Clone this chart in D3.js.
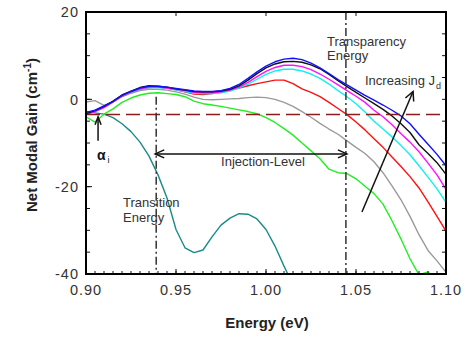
<!DOCTYPE html>
<html>
<head>
<meta charset="utf-8">
<script src="https://cdn.jsdelivr.net/npm/d3@7"></script>
<style>
  html, body { margin: 0; padding: 0; background: #fff; }
  svg { display: block; font-family: "Liberation Sans", Arial, sans-serif; }
</style>
</head>
<body>
<svg id="chart" width="466" height="337"></svg>
<script>
// Photon energy grid (eV), shared by all gain spectra
const energy = d3.range(41).map(i => +(0.9 + i * 0.005).toFixed(3));

// Net modal gain spectra (cm^-1), increasing drive current Jd
const gainTeal = [-2.8, -3.1, -3.4, -4.2, -5.6, -7.4, -9.8, -13.0, -17.3, -22.6, -29.8, -34.0, -35.1, -34.5, -31.5, -28.8, -27.2, -26.2, -26.3, -27.4, -29.8, -33.6, -38.2, -42.5];
const gainGreen = [-4.0, -5.2, -3.4, -2.2, -0.7, 0.3, 1.0, 1.4, 1.5, 1.3, 1.1, 0.6, -0.4, -1.0, -1.3, -1.6, -2.0, -2.4, -2.8, -3.3, -4.2, -5.3, -6.7, -8.2, -10.0, -11.8, -13.6, -16.0, -16.8, -17.0, -18.2, -19.9, -21.6, -24.0, -27.8, -32.0, -36.5, -40.2, -39.5, -42.0, -44.0];
const gainGray = [-0.6, -0.3, -1.4, -0.6, 0.6, 1.4, 2.0, 2.3, 2.3, 2.1, 1.7, 1.2, 0.5, 0.0, -0.1, 0.0, 0.1, 0.2, 0.4, 0.5, 0.4, 0.0, -0.7, -1.6, -2.8, -4.1, -5.5, -6.8, -8.0, -9.5, -11.0, -12.4, -14.3, -16.8, -19.8, -23.0, -26.8, -31.0, -34.6, -37.0, -39.6];
const gainRed = [-3.0, -2.7, -1.8, -0.6, 0.7, 1.6, 2.3, 2.7, 2.8, 2.6, 2.2, 1.7, 1.2, 1.1, 1.3, 1.6, 2.1, 2.6, 3.1, 3.6, 4.0, 4.4, 4.4, 3.6, 2.4, 1.6, 0.6, -0.7, -2.1, -3.5, -5.2, -7.0, -9.0, -11.0, -13.2, -15.4, -17.7, -20.3, -23.5, -26.8, -30.2];
const gainCyan = [-3.2, -2.8, -1.8, -0.6, 0.8, 1.6, 2.3, 2.7, 2.7, 2.5, 2.2, 1.8, 1.4, 1.3, 1.3, 1.5, 1.9, 2.6, 3.5, 4.6, 5.7, 6.5, 6.9, 6.9, 6.5, 5.8, 4.8, 3.5, 2.0, 0.6, -1.0, -2.9, -5.0, -6.8, -8.6, -10.6, -12.7, -15.2, -17.8, -20.5, -23.6];
const gainMagenta = [-3.5, -2.8, -1.9, -0.6, 0.8, 1.7, 2.4, 2.8, 2.8, 2.6, 2.3, 2.0, 1.6, 1.5, 1.5, 1.7, 2.1, 2.8, 3.9, 5.2, 6.4, 7.3, 7.8, 7.8, 7.5, 6.8, 5.8, 4.6, 3.3, 2.0, 0.7, -0.7, -2.5, -4.0, -5.8, -7.9, -9.8, -12.0, -14.6, -17.3, -20.6];
const gainBlack = [-3.3, -2.6, -1.6, -0.4, 1.0, 1.9, 2.7, 3.1, 3.0, 2.8, 2.4, 2.1, 1.8, 1.7, 1.7, 1.9, 2.3, 3.1, 4.4, 5.9, 7.2, 8.1, 8.6, 8.7, 8.5, 7.9, 7.0, 5.7, 4.3, 2.9, 1.6, 0.3, -1.0, -2.3, -3.8, -5.6, -7.6, -10.4, -12.4, -14.5, -17.2];
const gainBlue = [-3.0, -2.5, -1.5, -0.5, 0.9, 1.8, 2.6, 3.0, 3.0, 2.8, 2.5, 2.2, 1.9, 1.8, 1.8, 2.0, 2.5, 3.4, 4.8, 6.3, 7.6, 8.6, 9.2, 9.4, 9.1, 8.3, 7.2, 5.9, 4.5, 3.3, 2.1, 0.9, -0.2, -1.3, -2.5, -3.8, -5.6, -8.0, -10.3, -12.6, -15.2];

const seriesValues = [gainTeal, gainGreen, gainGray, gainRed, gainCyan, gainMagenta, gainBlack, gainBlue];
const seriesColors = ["#1b8a8a", "#22ee22", "#9a9a9a", "#ff1010", "#10f0f0", "#ff10ff", "#111111", "#1010ff"];

// Reference levels
const internalLoss = -3.5;          // alpha_i, cm^-1
const transitionEnergy = 0.939;     // eV
const transparencyEnergy = 1.0444;  // eV

// Axis ticks
const xMajorTicks = [0.90, 0.95, 1.00, 1.05, 1.10];
const yMajorTicks = [-40, -20, 0, 20];

const svg = d3.select("#chart");
const W = 466, H = 337;
const margin = { left: 86, right: 20, top: 12, bottom: 63 };
const x = d3.scaleLinear().domain([0.9, 1.1]).range([margin.left, W - margin.right]);
const y = d3.scaleLinear().domain([-40, 20]).range([H - margin.bottom, margin.top]);
const x0 = x.range()[0], x1 = x.range()[1], y0 = y.range()[0], y1 = y.range()[1];

svg.append("defs").append("clipPath").attr("id", "plot")
  .append("rect").attr("x", x0).attr("y", y1).attr("width", x1 - x0).attr("height", y0 - y1);

// Spectra
const line = d3.line().x(d => x(d[0])).y(d => y(d[1]));
const curves = svg.append("g").attr("clip-path", "url(#plot)");
seriesValues.forEach((vals, i) => {
  const pts = vals.map((v, j) => [energy[j], v]);
  curves.append("path").attr("d", line(pts))
    .attr("fill", "none").attr("stroke", seriesColors[i])
    .attr("stroke-width", 1.4).attr("stroke-linejoin", "round");
});

// Internal loss level
curves.append("line")
  .attr("x1", x0).attr("x2", x1).attr("y1", y(internalLoss)).attr("y2", y(internalLoss))
  .attr("stroke", "#8b1c1c").attr("stroke-width", 1.5).attr("stroke-dasharray", "14,6");

// Transition / transparency markers
const dashDot = "8,3,2,3";
curves.append("line")
  .attr("x1", x(transitionEnergy)).attr("x2", x(transitionEnergy))
  .attr("y1", y(0.6)).attr("y2", y0)
  .attr("stroke", "#333").attr("stroke-width", 1.5).attr("stroke-dasharray", dashDot);
curves.append("line")
  .attr("x1", x(transparencyEnergy)).attr("x2", x(transparencyEnergy))
  .attr("y1", y1).attr("y2", y0)
  .attr("stroke", "#333").attr("stroke-width", 1.5).attr("stroke-dasharray", dashDot);

// Arrow helper with open chevron head at (xb, yb)
function arrow(g, xa, ya, xb, yb, headLen, headHalf) {
  g.append("line").attr("x1", xa).attr("y1", ya).attr("x2", xb).attr("y2", yb)
    .attr("stroke", "#111").attr("stroke-width", 1.5);
  const ang = Math.atan2(yb - ya, xb - xa);
  const bx = xb - headLen * Math.cos(ang), by = yb - headLen * Math.sin(ang);
  const nx = -Math.sin(ang) * headHalf, ny = Math.cos(ang) * headHalf;
  g.append("path")
    .attr("d", `M${bx + nx},${by + ny}L${xb},${yb}L${bx - nx},${by - ny}`)
    .attr("fill", "none").attr("stroke", "#111").attr("stroke-width", 1.5);
}
const ann = svg.append("g");
const arrowY = y(-12.5);
const midX = (x(transitionEnergy) + x(transparencyEnergy)) / 2;
arrow(ann, midX, arrowY, x(transitionEnergy) - 1, arrowY, 9, 4);
arrow(ann, midX, arrowY, x(transparencyEnergy) + 1, arrowY, 9, 4);
arrow(ann, x(0.9067), y(-9.5), x(0.9067), y(-4.0), 8, 3);
arrow(ann, x(1.0533), y(-25.8), x(1.0817), y(1.8), 9, 4.5);

// Annotation text
const txt = (xx, yy, s, size, weight) => ann.append("text")
  .attr("x", xx).attr("y", yy).attr("font-size", size).attr("fill", "#333")
  .attr("font-weight", weight || "normal").text(s);
txt(327, 46, "Transparency", 13);
txt(327, 60, "Energy", 13);
txt(123, 207, "Transition", 13);
txt(123, 222, "Energy", 13);
ann.append("text").attr("x", 263).attr("y", 166).attr("text-anchor", "middle")
  .attr("font-size", 13).attr("fill", "#333").text("Injection-Level");
const inc = ann.append("text").attr("x", 365).attr("y", 85).attr("font-size", 13).attr("fill", "#333");
inc.append("tspan").text("Increasing J");
inc.append("tspan").attr("font-size", 9).attr("dy", 4).attr("dx", 1).text("d");
const al = ann.append("text").attr("x", 97).attr("y", 160).attr("fill", "#111");
al.append("tspan").attr("font-size", 14).attr("font-weight", "bold").text("α");
al.append("tspan").attr("font-size", 9).attr("dy", 3).attr("dx", 2).text("i");

// Axes: ticks point inward on all four sides
const axes = svg.append("g");
const xMinor = d3.range(0.9, 1.1001, 0.005);
const yMinor = d3.range(-40, 20.001, 5);
const tick = (xa, ya, xb, yb) => axes.append("line")
  .attr("x1", xa).attr("y1", ya).attr("x2", xb).attr("y2", yb)
  .attr("stroke", "#111").attr("stroke-width", 1);
xMinor.forEach(v => tick(x(v), y0, x(v), y0 - 3));
xMajorTicks.forEach(v => { tick(x(v), y0, x(v), y0 - 5); tick(x(v), y1, x(v), y1 + 4); });
yMinor.forEach(v => { tick(x0, y(v), x0 + 4, y(v)); tick(x1, y(v), x1 - 4, y(v)); });
yMajorTicks.forEach(v => tick(x0, y(v), x0 + 6, y(v)));

axes.append("rect").attr("x", x0).attr("y", y1).attr("width", x1 - x0).attr("height", y0 - y1)
  .attr("fill", "none").attr("stroke", "#000").attr("stroke-width", 2);

// Tick labels
xMajorTicks.forEach(v => axes.append("text")
  .attr("x", x(v)).attr("y", 295).attr("text-anchor", "middle")
  .attr("font-size", 14.5).attr("letter-spacing", 1).attr("fill", "#333")
  .text(d3.format(".2f")(v)));
yMajorTicks.forEach(v => axes.append("text")
  .attr("x", x0 - 7).attr("y", y(v)).attr("dy", "0.36em").attr("text-anchor", "end")
  .attr("font-size", 14.5).attr("letter-spacing", 1).attr("fill", "#333")
  .text(v));

// Axis titles
axes.append("text").attr("x", 267).attr("y", 328).attr("text-anchor", "middle")
  .attr("font-size", 15).attr("font-weight", "bold").attr("fill", "#222").text("Energy (eV)");
const yt = axes.append("text").attr("transform", "translate(37,135) rotate(-90)")
  .attr("text-anchor", "middle").attr("font-size", 15).attr("font-weight", "bold").attr("fill", "#222");
yt.append("tspan").text("Net Modal Gain (cm");
yt.append("tspan").attr("font-size", 10).attr("dy", -6).text("-1");
yt.append("tspan").attr("dy", 6).text(")");
</script>
</body>
</html>
